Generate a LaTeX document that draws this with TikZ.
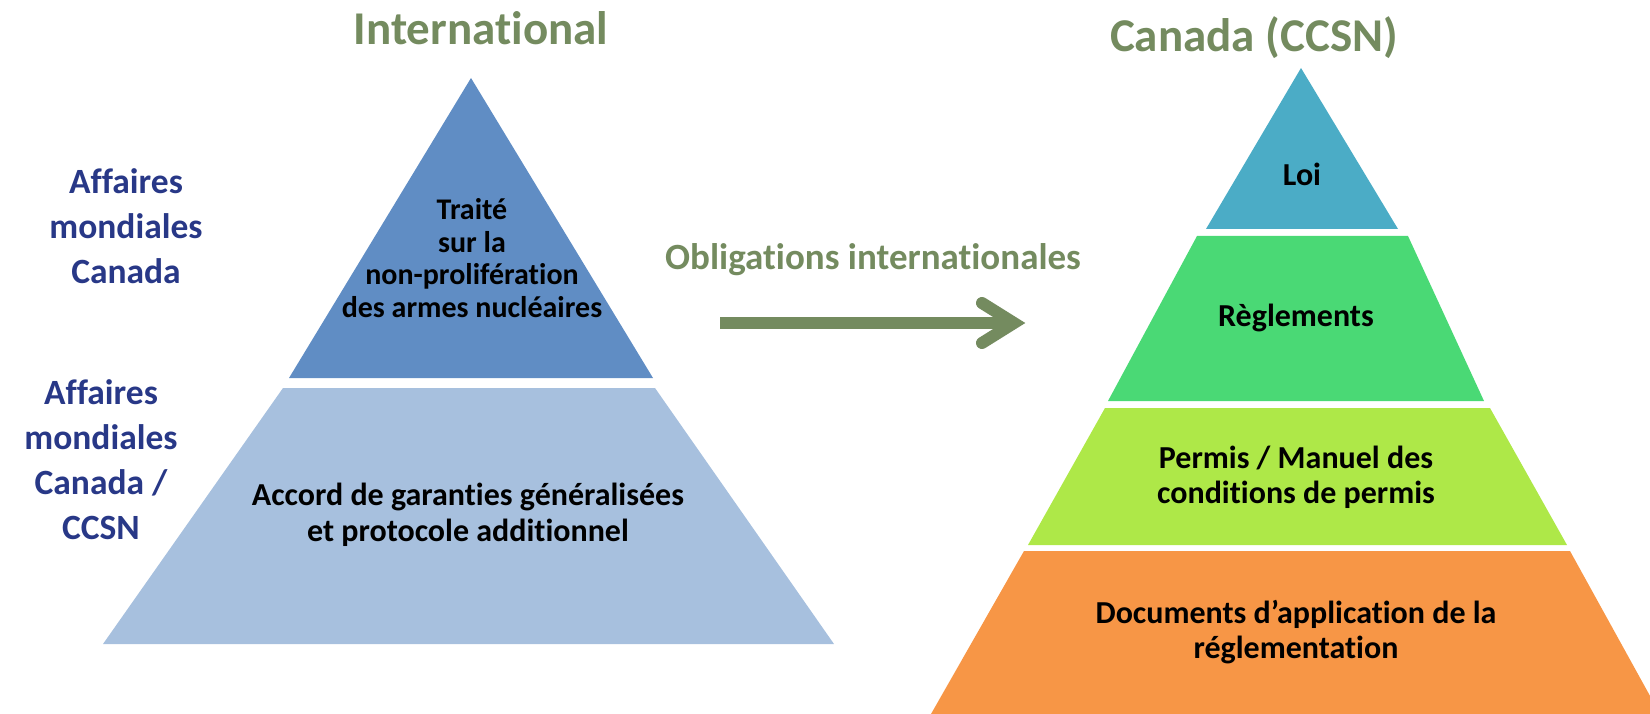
\documentclass[tikz,border=0pt]{standalone}
\usepackage{fontspec}
\setmainfont{Carlito}[RawFeature={-liga;-clig;-calt;-dlig}]
\definecolor{tipblue}{RGB}{96,141,196}
\definecolor{lowblue}{RGB}{167,192,222}
\definecolor{loicol}{RGB}{75,172,198}
\definecolor{reglcol}{RGB}{74,217,117}
\definecolor{permcol}{RGB}{174,232,72}
\definecolor{doccol}{RGB}{247,150,70}
\definecolor{headgreen}{RGB}{116,139,95}
\definecolor{labblue}{RGB}{40,56,135}
\tikzset{
  x=1pt, y=-1pt,
  heading/.style={font=\fontsize{47}{56}\selectfont\bfseries, text=headgreen, inner sep=0pt},
  sidelab/.style={font=\fontsize{35.5}{45}\selectfont\bfseries, text=labblue, align=center, inner sep=0pt},
  tiertext/.style={font=\fontsize{32}{35}\selectfont\bfseries, text=black, align=center, inner sep=0pt},
  arrowlab/.style={font=\fontsize{37}{44}\selectfont\bfseries, text=headgreen, inner sep=0pt},
}
\begin{document}
\begin{tikzpicture}
\useasboundingbox (0,0) rectangle (1650,714);
\clip (0,0) rectangle (1650,714);
% left pyramid
\fill[tipblue] (471,78) -- (653,378) -- (289,378) -- cycle;
\fill[lowblue] (283,388) -- (655,388) -- (834,644) -- (103,644) -- cycle;
% right pyramid
\fill[loicol] (1301,68) -- (1398,229) -- (1206,229) -- cycle;
\fill[reglcol] (1197,236) -- (1408,236) -- (1484,401) -- (1108,401) -- cycle;
\fill[permcol] (1105,408) -- (1490,408) -- (1567,545) -- (1028,545) -- cycle;
\fill[doccol] (1024,551) -- (1570,551) -- (1660,714) -- (931,714) -- cycle;
% headings
\node[heading] (intl) at (481,28) {International};
\node[heading] (canada) at (1254,38) {Canada (CCSN)};
% side labels
\node[sidelab] (amc1) at (126,226) {Affaires\\mondiales\\Canada};
\node[sidelab] (amc2) at (101,460) {Affaires\\mondiales\\Canada /\\CCSN};
% tier texts
\node[tiertext, font=\fontsize{30}{32.5}\selectfont\bfseries] (tnp) at (472,258) {Traité\\sur la\\non-prolifération\\des armes nucléaires};
\node[tiertext, font=\fontsize{32}{36}\selectfont\bfseries] (agg) at (468,515) {Accord de garanties généralisées\\et protocole additionnel};
\node[tiertext] (loi) at (1302,174) {Loi};
\node[tiertext] (regl) at (1296,318) {Règlements};
\node[tiertext] (perm) at (1296,477) {Permis / Manuel des\\conditions de permis};
\node[tiertext] (docs) at (1296,632) {Documents d’application de la\\réglementation};
% arrow
\node[arrowlab] (oblig) at (873,260) {Obligations internationales};
\coordinate (ashaft) at (720,323);
\coordinate (atip) at (1014,323);
\draw[headgreen, line width=12pt] (ashaft) -- (atip);
\draw[headgreen, line width=12pt, line cap=round, line join=miter] ([shift={(-32,-20)}]atip) -- (atip) -- ([shift={(-32,20)}]atip);
\end{tikzpicture}
\end{document}
